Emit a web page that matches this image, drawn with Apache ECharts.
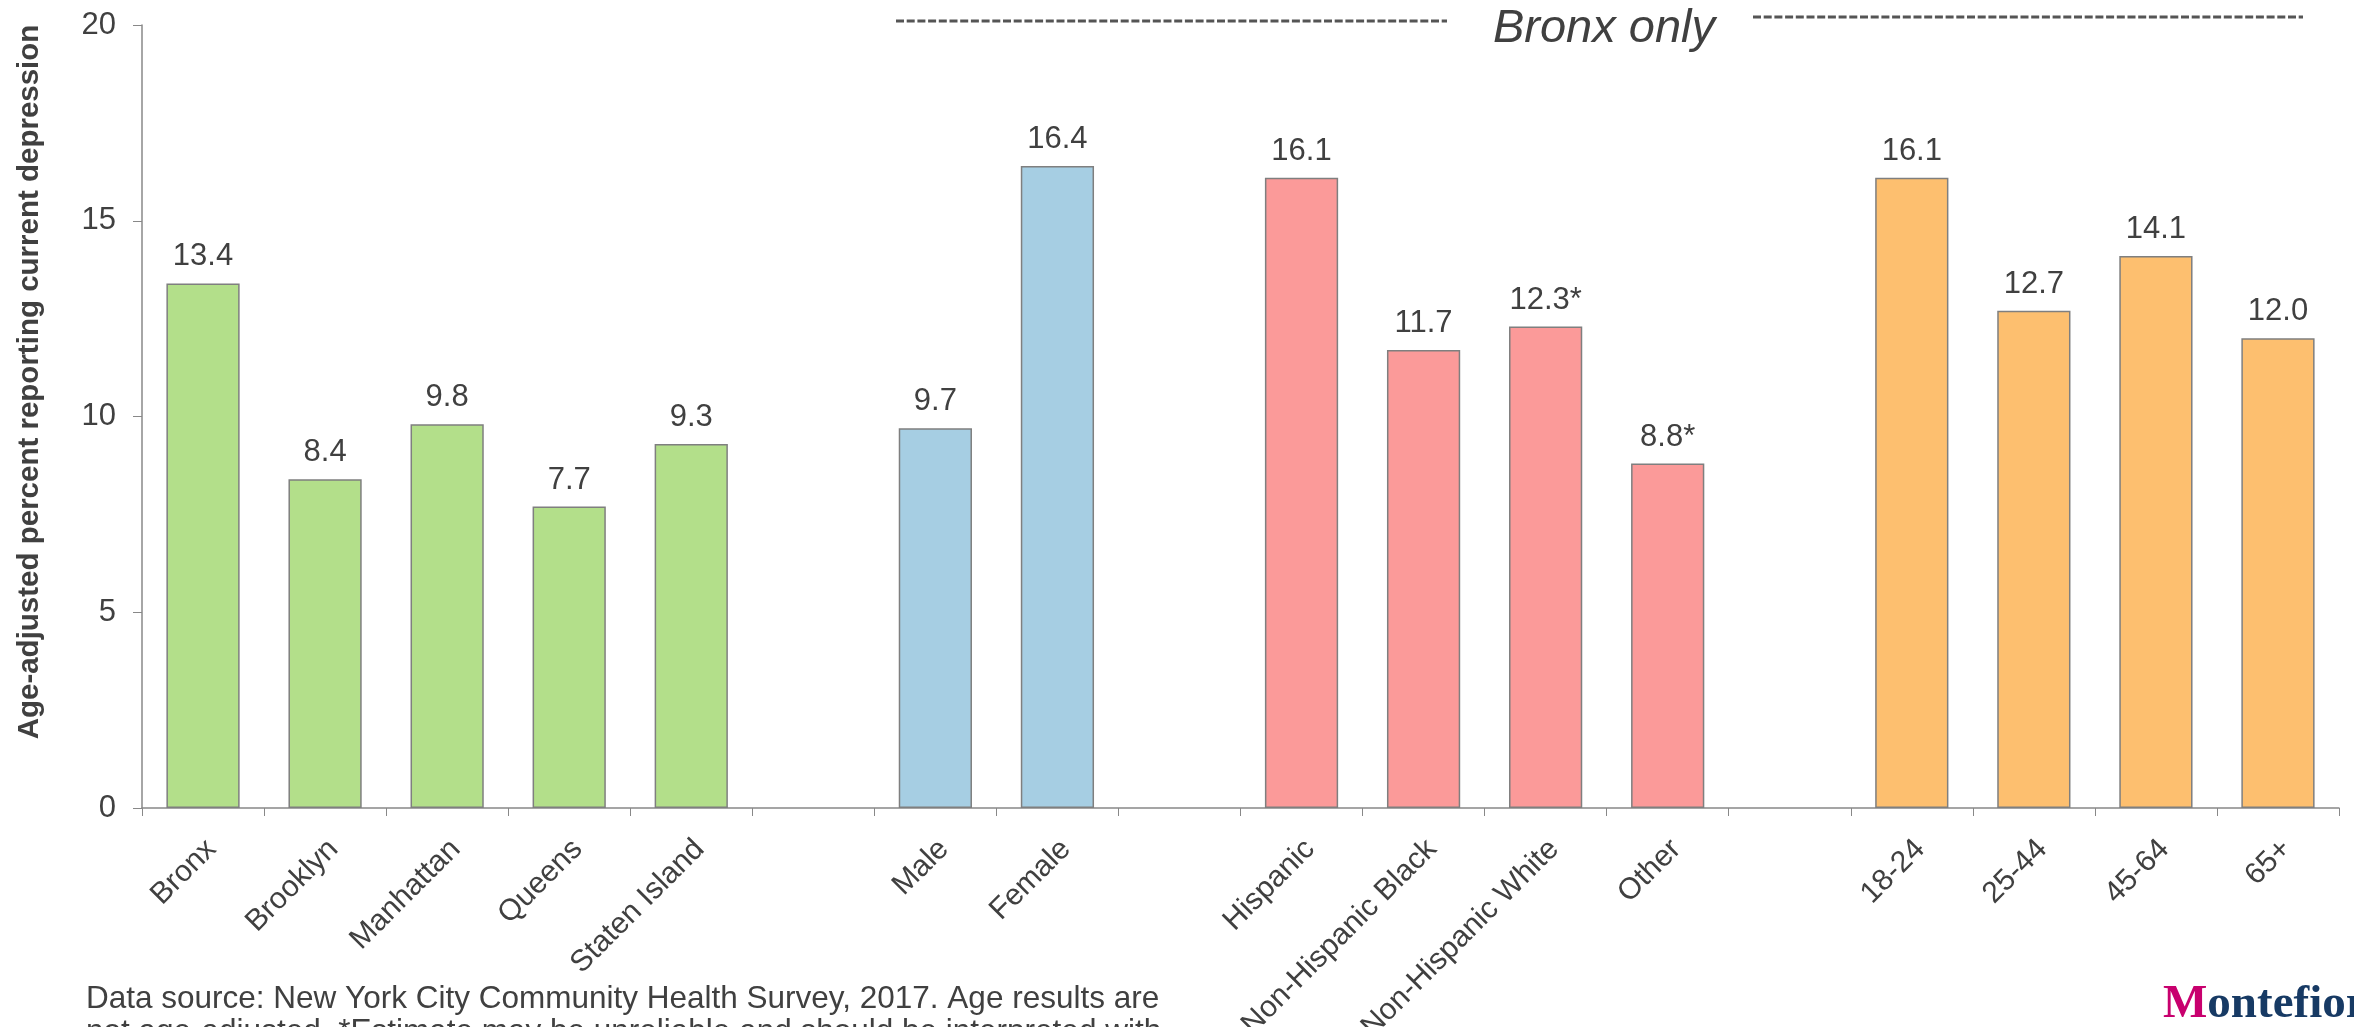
<!DOCTYPE html>
<html>
<head>
<meta charset="utf-8">
<script src="https://cdn.jsdelivr.net/npm/echarts@6/dist/echarts.min.js"></script>
<style>
  html, body { margin: 0; padding: 0; background: #fff; }
  #chart { width: 2354px; height: 1027px; }
</style>
</head>
<body>
<div id="chart"></div>
<script>
// data
var boroughs = ["Bronx", "Brooklyn", "Manhattan", "Queens", "Staten Island"];
var boroughVals = [13.4, 8.4, 9.8, 7.7, 9.3];
var sexes = ["Male", "Female"];
var sexVals = [9.7, 16.4];
var races = ["Hispanic", "Non-Hispanic Black", "Non-Hispanic White", "Other"];
var raceVals = [16.1, 11.7, 12.3, 8.8];
var ages = ["18-24", "25-44", "45-64", "65+"];
var ageVals = [16.1, 12.7, 14.1, 12.0];
var flagged = ["Non-Hispanic White", "Other"]; // estimate may be unreliable
var yTicks = [0, 5, 10, 15, 20];

var groupColors = ["#b3df8a", "#a6cee3", "#fb9a99", "#fdbf6f"];
var groups = [[boroughs, boroughVals], [sexes, sexVals], [races, raceVals], [ages, ageVals]];

// build category list with an empty slot between groups
var categories = [];
var barData = [];
groups.forEach(function (g, gi) {
  if (gi > 0) {
    categories.push("");
    barData.push(null);
  }
  g[0].forEach(function (name, i) {
    categories.push(name);
    barData.push({ value: g[1][i], itemStyle: { color: groupColors[gi] } });
  });
});

var font = "'Liberation Sans', Arial, sans-serif";
var textColor = "#404040";

var myChart = echarts.init(document.getElementById("chart"), null, { renderer: "canvas" });
myChart.setOption({
  animation: false,
  grid: { left: 142, right: 15, top: 25, bottom: 219, containLabel: false, outerBoundsMode: "none" },
  xAxis: {
    type: "category",
    data: categories,
    axisLine: { lineStyle: { color: "#888888", width: 1.5 } },
    axisTick: { show: true, length: 8, lineStyle: { color: "#888888" } },
    axisLabel: {
      interval: 0,
      rotate: 45,
      margin: 28,
      lineHeight: 24,
      fontSize: 30,
      fontFamily: font,
      color: textColor,
      // blank first line pushes the rotated name a little further from the axis
      formatter: function (v) { return v ? "\n" + v : ""; }
    }
  },
  yAxis: {
    type: "value",
    min: 0,
    max: 20,
    interval: 5,
    name: "Age-adjusted percent reporting current depression",
    nameLocation: "middle",
    nameGap: 97,
    nameTextStyle: {
      fontSize: 29.5,
      fontWeight: "bold",
      fontFamily: font,
      color: textColor,
      padding: [0, 0, 0, 69]
    },
    axisLine: { show: true, lineStyle: { color: "#888888", width: 1.5 } },
    axisTick: { show: true, length: 9, lineStyle: { color: "#888888" } },
    splitLine: { show: false },
    axisLabel: {
      margin: 26,
      fontSize: 31,
      fontFamily: font,
      color: textColor,
      formatter: function (v) { return yTicks.indexOf(v) >= 0 ? String(v) : ""; }
    }
  },
  series: [{
    type: "bar",
    data: barData,
    barWidth: "60%",
    itemStyle: { borderColor: "#7f7f7f", borderWidth: 1.5 },
    label: {
      show: true,
      position: "top",
      distance: 11,
      fontSize: 31,
      fontFamily: font,
      color: textColor,
      formatter: function (p) {
        var s = p.value.toFixed(1);
        return flagged.indexOf(p.name) >= 0 ? s + "*" : s;
      }
    }
  }],
  graphic: [
    {
      type: "line",
      shape: { x1: 896, y1: 21, x2: 1447, y2: 21 },
      style: { stroke: "#555555", lineWidth: 3, lineDash: [8, 2.7] }
    },
    {
      type: "line",
      shape: { x1: 1753, y1: 17, x2: 2303, y2: 17 },
      style: { stroke: "#555555", lineWidth: 3, lineDash: [8, 2.7] }
    },
    {
      type: "text",
      x: 1604, y: 29,
      style: {
        text: "Bronx only",
        font: "italic 47px 'Liberation Sans', Arial, sans-serif",
        fill: textColor,
        textAlign: "center",
        textVerticalAlign: "middle"
      }
    },
    {
      type: "text",
      x: 86, y: 999,
      style: {
        text: "Data source: New York City Community Health Survey, 2017. Age results are",
        font: "31.5px 'Liberation Sans', Arial, sans-serif",
        fill: textColor,
        textAlign: "left",
        textVerticalAlign: "middle"
      }
    },
    {
      type: "text",
      x: 86, y: 1032,
      style: {
        text: "not age-adjusted. *Estimate may be unreliable and should be interpreted with",
        font: "31.5px 'Liberation Sans', Arial, sans-serif",
        fill: textColor,
        textAlign: "left",
        textVerticalAlign: "middle"
      }
    },
    {
      type: "text",
      x: 2163, y: 1005,
      style: {
        text: "{m|M}{r|ontefiore}",
        rich: {
          m: { fontSize: 47, fontWeight: "bold", fontFamily: "'Liberation Serif', 'Times New Roman', serif", fill: "#c8006e" },
          r: { fontSize: 47, fontWeight: "bold", fontFamily: "'Liberation Serif', 'Times New Roman', serif", fill: "#173a64" }
        },
        textAlign: "left",
        textVerticalAlign: "middle"
      }
    }
  ]
});
</script>
</body>
</html>
